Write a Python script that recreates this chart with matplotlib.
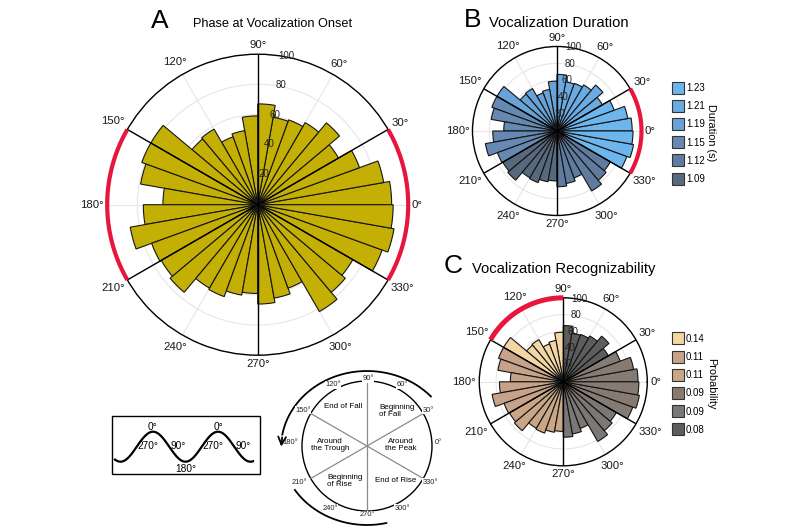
import numpy as np
import matplotlib
matplotlib.use("Agg")
import matplotlib.pyplot as plt
from matplotlib.patches import Rectangle, Circle

plt.rcParams['font.family'] = ['Liberation Sans', 'DejaVu Sans']

# ---------------- data ----------------
bin_starts = list(range(0, 360, 10))          # 10-degree phase bins (start angle)
onset_counts = [89, 85, 72, 62, 71, 63, 60, 59, 67,
                59, 50, 48, 58, 57, 82, 82, 79, 63,
                76, 86, 75, 74, 76, 64, 65, 61, 59,
                66, 63, 59, 82, 76, 73, 88, 92, 90]
angle_ticks = list(range(0, 360, 30))
radial_ticks = [20, 40, 60, 80, 100]

sector_names = ["Around\nthe Peak", "Beginning\nof Fall", "End of Fall",
                "Around\nthe Trough", "Beginning\nof Rise", "End of Rise"]
sector_starts = [330, 30, 90, 150, 210, 270]

duration_values = [1.23, 1.21, 1.19, 1.15, 1.12, 1.09]
duration_sector = [0, 1, 2, 3, 5, 4]
prob_values = [0.14, 0.11, 0.11, 0.09, 0.09, 0.08]
prob_sector = [2, 3, 4, 0, 5, 1]

highlight_A = [0, 3]
highlight_B = [0]
highlight_C = [2]

# ---------------- styles ----------------
OLIVE = '#c4b004'
RED = '#e8163c'
dur_colors = ['#6db5ed', '#6aabe2', '#68a3d8', '#6689b3', '#5f7c9f', '#59697d']
prob_colors = ['#f4d6a4', '#c6a28a', '#c9a786', '#867b72', '#7a7774', '#5d5d5d']

fig = plt.figure(figsize=(8, 5.3), dpi=100)

# overlay axes in pixel coordinates
ov = fig.add_axes([0, 0, 1, 1])
ov.set_xlim(0, 800)
ov.set_ylim(530, 0)
ov.axis('off')


def sector_of(angle):
    for k, s in enumerate(sector_starts):
        if (angle - s) % 360 < 60:
            return k
    return 0


def colors_for(legend_colors, legend_sector):
    cmap = {sec: c for sec, c in zip(legend_sector, legend_colors)}
    return [cmap[sector_of(a)] for a in bin_starts]


def polar_panel(rect, radius_px, bar_colors, highlights, arc_lw, gap,
                tick_fs=8.2):
    ax = fig.add_axes(rect, projection='polar')
    ax.set_facecolor('none')
    ax.set_theta_zero_location('E')
    ax.set_ylim(0, 100)
    ax.set_axisbelow(True)
    ax.grid(True, color='#e6e6e6', lw=0.8)
    ax.set_yticks(radial_ticks)
    ax.set_yticklabels([])
    ax.set_thetagrids(angle_ticks, labels=[''] * len(angle_ticks))
    ax.spines['polar'].set_color('black')
    ax.spines['polar'].set_linewidth(1.0)
    theta = np.deg2rad(bin_starts)
    ax.bar(theta, onset_counts, width=np.deg2rad(10), align='edge',
           color=bar_colors, edgecolor='#151515', linewidth=0.8, zorder=2)
    for s in sector_starts:
        ax.plot([np.deg2rad(s)] * 2, [0, 100], color='black', lw=1.0, zorder=3)
    for r in radial_ticks:
        ax.text(np.deg2rad(79), r + 1, str(r), fontsize=7, ha='center',
                va='center', color='#222222', zorder=5)
    for k in highlights:
        t = np.deg2rad(np.linspace(sector_starts[k], sector_starts[k] + 60, 120))
        ax.plot(t, np.full_like(t, 100.0), color=RED, lw=arc_lw, clip_on=False,
                zorder=6, solid_capstyle='butt')
    # angular labels placed just outside the rim
    fs_px = tick_fs * 100 / 72
    for a in angle_ticks:
        lab = f"{a}°"
        w = fs_px * (0.556 * len(str(a)) + 0.42)
        h = fs_px * 0.95
        th = np.deg2rad(a)
        d = gap + abs(np.cos(th)) * w / 2 + abs(np.sin(th)) * h / 2
        ax.text(th, 100 * (radius_px + d) / radius_px, lab, fontsize=tick_fs,
                ha='center', va='center', color='#1a1a1a', clip_on=False,
                zorder=7)
    return ax


# Panel A
polar_panel([0.134, 0.3298, 0.37625, 0.5679], 150.5, [OLIVE] * len(bin_starts),
            highlight_A, 3.0, 3.5)
# Panel B
polar_panel([0.5906, 0.5934, 0.21125, 0.3189], 84.5,
            colors_for(dur_colors, duration_sector), highlight_B, 3.0, 3.0)
# Panel C
polar_panel([0.5991, 0.1211, 0.21, 0.317], 84,
            colors_for(prob_colors, prob_sector), highlight_C, 3.6, 3.0)

# titles
ov.text(151, 28, "A", fontsize=19, ha='left', va='baseline')
ov.text(193, 27, "Phase at Vocalization Onset", fontsize=9.2, ha='left', va='baseline')
ov.text(464, 27, "B", fontsize=19, ha='left', va='baseline')
ov.text(489, 27, "Vocalization Duration", fontsize=10.6, ha='left', va='baseline')
ov.text(444, 273, "C", fontsize=19, ha='left', va='baseline')
ov.text(472, 273, "Vocalization Recognizability", fontsize=10.6, ha='left', va='baseline')


def legend(values, colors, y0, title):
    for i, (v, c) in enumerate(zip(values, colors)):
        yc = y0 + i * 18.2
        ov.add_patch(Rectangle((672, yc - 6), 12, 12, facecolor=c,
                               edgecolor='#333333', lw=0.8))
        ov.text(686, yc + 0.5, f"{v:.2f}", fontsize=7, ha='left', va='center')
    ov.text(711, y0 + 2.5 * 18.2, title, fontsize=7.8, rotation=270,
            ha='center', va='center')


legend(duration_values, dur_colors, 87.5, "Duration (s)")
legend(prob_values, prob_colors, 338.3, "Probability")

# ---------- schematic: cosine wave box ----------
ov.add_patch(Rectangle((112, 416), 148, 58, facecolor='none', edgecolor='black', lw=1))
peaks_x = [153, 218]
period = 65
xs = np.linspace(115, 253, 300)
ov.plot(xs, 446.7 - 15 * np.cos(2 * np.pi * (xs - peaks_x[0]) / period),
        color='black', lw=1.6)
for px in peaks_x:
    ov.text(px, 427, "0°", fontsize=7.3, ha='center', va='center')
    ov.text(px - 5, 446, "270°", fontsize=7.3, ha='center', va='center')
    ov.text(px + 25, 446, "90°", fontsize=7.3, ha='center', va='center')
ov.text(185.5, 469, "180°", fontsize=7.3, ha='center', va='center')

# ---------- schematic: phase circle ----------
cx, cy, rr = 367, 446, 65
ov.add_patch(Circle((cx, cy), rr, facecolor='none', edgecolor='black', lw=1))
for s in [30, 90, 150]:
    a = np.deg2rad(s)
    ov.plot([cx - rr * np.cos(a), cx + rr * np.cos(a)],
            [cy + rr * np.sin(a), cy - rr * np.sin(a)], color='#8a8a8a', lw=0.9)

deg_label_pos = {90: (368, 379), 120: (333, 385), 60: (402, 385),
                 150: (303, 410), 30: (428, 410), 180: (290, 442),
                 0: (438, 442), 210: (299, 482), 330: (430, 482),
                 240: (330, 508), 270: (367, 515), 300: (402, 508)}
for d, (x, y) in deg_label_pos.items():
    ov.text(x, y, f"{d}°", fontsize=5.4, ha='center', va='center', color='#222222',
            bbox=dict(facecolor='white', edgecolor='none', pad=0.3))

sector_text_pos = [(401, 445, 'center'), (379, 411, 'left'), (343, 407, 'center'),
                   (330, 445, 'center'), (327, 481, 'left'), (396, 481, 'center')]
for name, (x, y, ha) in zip(sector_names, sector_text_pos):
    ov.text(x, y, name, fontsize=5.8, ha=ha, va='center', linespacing=1.15,
            multialignment=ha)

# arrow arcs around the circle
ecx, ecy, ea, eb = 367, 448, 86, 77
t1 = np.deg2rad(np.linspace(42, 170, 200))
ov.plot(ecx + ea * np.cos(t1), ecy - eb * np.sin(t1), color='black', lw=1.3)
tend = np.deg2rad(181)
ov.annotate('', xy=(ecx + ea * np.cos(tend), ecy - eb * np.sin(tend)),
            xytext=(ecx + ea * np.cos(t1[-1]), ecy - eb * np.sin(t1[-1])),
            arrowprops=dict(arrowstyle='->', lw=1.3, mutation_scale=14, color='black'))
t2 = np.deg2rad(np.linspace(213, 283, 150))
ov.plot(ecx + ea * np.cos(t2), ecy - eb * np.sin(t2), color='black', lw=1.3)

fig.savefig("out.png", dpi=100)
